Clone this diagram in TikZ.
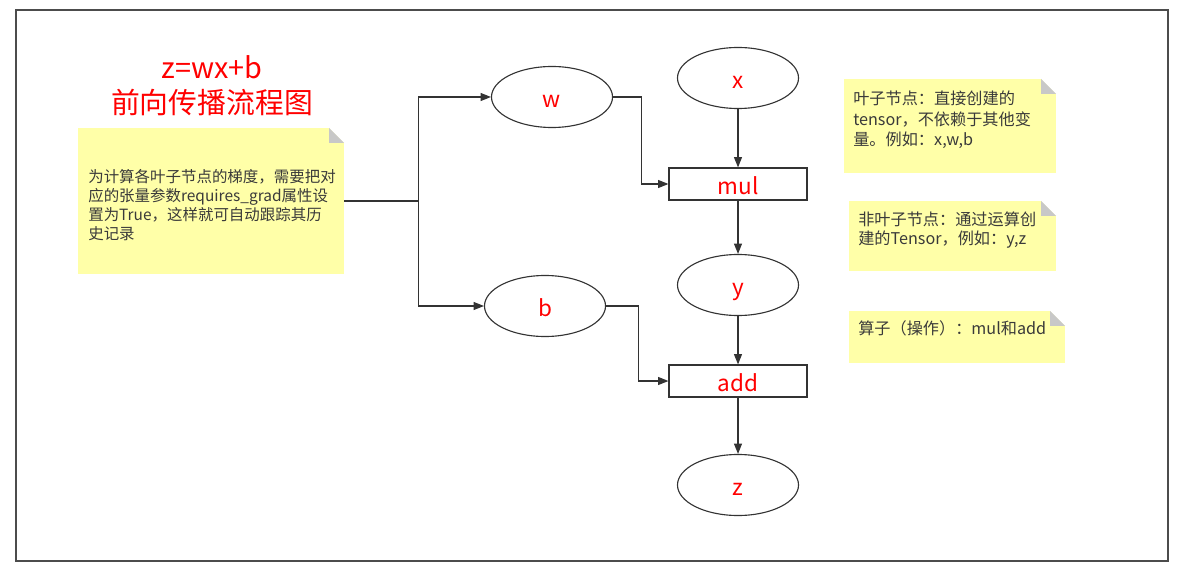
\documentclass[tikz,border=0pt]{standalone}
\usepackage{fontspec}
\setmainfont{Noto Sans CJK SC}
\usetikzlibrary{shapes.geometric,arrows.meta}

\definecolor{notefill}{HTML}{FFFFA8}
\definecolor{foldgray}{HTML}{C8C8C8}
\definecolor{linegray}{HTML}{333333}
\definecolor{textgray}{HTML}{3A3A3A}

\tikzset{
    leaf/.style={ellipse,draw=linegray,line width=0.8pt,inner sep=0,
        minimum width=3.025cm,minimum height=1.525cm,text=red,
        text height=15pt,text depth=0pt,
        font=\fontsize{16}{18}\selectfont},
    op/.style={rectangle,draw=linegray,line width=0.8pt,inner sep=0,
        minimum width=3.45cm,minimum height=0.8cm,text=red,
        text height=15pt,text depth=0pt,
        font=\fontsize{16}{18}\selectfont},
    flow/.style={draw=linegray,line width=0.8pt,
        -{Triangle[length=0.26cm,width=0.2cm]}},
    notebox/.style={rectangle,fill=notefill,inner sep=0,path picture={
        \fill[white] ([xshift=-0.375cm]path picture bounding box.north east)
            -- (path picture bounding box.north east)
            -- ([yshift=-0.375cm]path picture bounding box.north east) -- cycle;
        \fill[foldgray] ([xshift=-0.375cm]path picture bounding box.north east)
            -- ([xshift=-0.375cm,yshift=-0.375cm]path picture bounding box.north east)
            -- ([yshift=-0.375cm]path picture bounding box.north east) -- cycle;
        }},
    notetext/.style={anchor=west,align=left,text=textgray,inner sep=0}
}

\begin{document}
\begin{tikzpicture}[x=0.025cm,y=-0.025cm]

    \useasboundingbox (0,0) rectangle (1177,577);
    \draw[line width=1.3pt,draw=black!70] (16,10) rectangle (1168,561);

    % title
    \node[align=center,text=red,font=\fontsize{20.5}{25}\selectfont] (title) at (212,86)
        {z=wx+b\\前向传播流程图};

    % hint for requires_grad
    \node[notebox,minimum width=6.65cm,minimum height=3.65cm] (hint) at (211,201) {};
    \node[notetext,font=\fontsize{11}{13.4}\selectfont] (hinttext) at (88,205)
        {为计算各叶子节点的梯度，需要把对\\
         应的张量参数requires\_grad属性设\\
         置为True，这样就可自动跟踪其历\\
         史记录};

    % graph
    \node[leaf] (w) at (552,97) {w};
    \node[leaf] (x) at (738,78) {x};
    \node[op] (mul) at (738,184) {mul};
    \node[leaf] (y) at (738,285) {y};
    \node[leaf] (b) at (545,306) {b};
    \node[op] (add) at (738,381) {add};
    \node[leaf] (z) at (738,485) {z};

    \draw[flow] (hint.east) -- ++(74,0) coordinate (split) |- (w.west);
    \draw[flow] (split) |- (b.west);
    \draw[flow] (w.east) -- ++(28,0) |- (mul.west);
    \draw[flow] (x.south) -- (mul.north);
    \draw[flow] (mul.south) -- (y.north);
    \draw[flow] (b.east) -- ++(32,0) |- (add.west);
    \draw[flow] (y.south) -- (add.north);
    \draw[flow] (add.south) -- (z.north);

    % notes on the right
    \node[notebox,minimum width=5.3cm,minimum height=2.35cm] (leafnote) at (950,126) {};
    \node[notetext,font=\fontsize{11.5}{14.5}\selectfont] (leaftext) at (853,120)
        {叶子节点：直接创建的\\
         tensor，不依赖于其他变\\
         量。例如：x,w,b};

    \node[notebox,minimum width=5.175cm,minimum height=1.75cm] (nonleafnote) at (952.5,236) {};
    \node[notetext,font=\fontsize{11.5}{13.5}\selectfont] (nonleaftext) at (858,230)
        {非叶子节点：通过运算创\\
         建的Tensor，例如：y,z};

    \node[notebox,minimum width=5.4cm,minimum height=1.3cm] (opnote) at (957,337) {};
    \node[notetext,font=\fontsize{11.5}{14.5}\selectfont] (optext) at (858,328)
        {算子（操作）：mul和add};

\end{tikzpicture}
\end{document}
